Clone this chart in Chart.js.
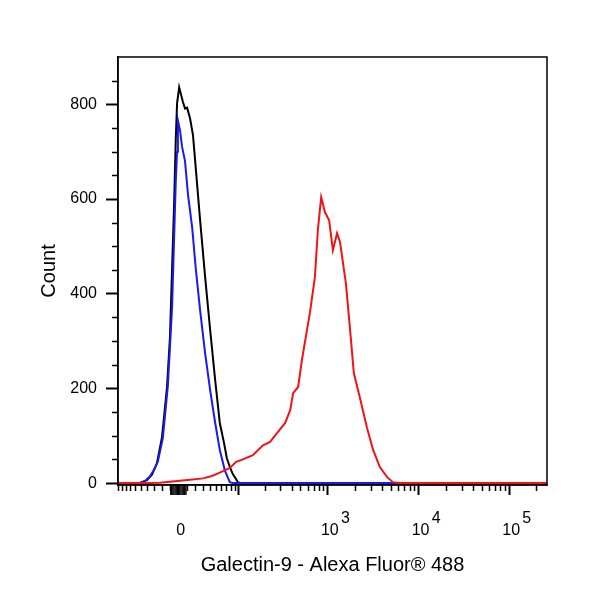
<!DOCTYPE html>
<html>
<head>
<meta charset="utf-8">
<script src="https://cdn.jsdelivr.net/npm/chart.js@4.4.1/dist/chart.umd.min.js"></script>
<style>
  html, body { margin: 0; padding: 0; background: #fff; }
</style>
</head>
<body>
<canvas id="myChartfc" width="600" height="600"></canvas>
<script>
// display channel (0-1024) across the biexponential axis
var blackCh    = [0, 36, 53, 69, 81, 93, 105, 117, 124, 129, 134, 138, 141, 146, 155, 160, 165, 172, 179, 186, 196, 208, 220, 232, 243, 253, 260, 267, 274, 282, 286, 294, 1024];
var blackCount = [0, 0, 1, 6, 18, 42, 97, 203, 308, 450, 591, 730, 802, 836, 805, 791, 793, 770, 735, 661, 555, 435, 323, 217, 127, 85, 52, 34, 19, 8, 2, 0, 0];

var blueCh    = [0, 41, 53, 64, 76, 86, 95, 107, 119, 129, 134, 138, 141, 143, 148, 153, 160, 167, 177, 186, 196, 208, 220, 232, 243, 255, 263, 267, 274, 1024];
var blueCount = [0, 0, 0, 4, 14, 28, 45, 95, 205, 370, 520, 640, 700, 766, 745, 710, 680, 610, 540, 450, 365, 274, 196, 127, 70, 27, 10, 2, 0, 0];

var redCh    = [0, 29, 76, 100, 124, 148, 172, 203, 224, 243, 267, 282, 298, 322, 346, 363, 380, 399, 411, 418, 430, 439, 451, 458, 470, 477, 485, 494, 504, 513, 523, 530, 544, 554, 563, 577, 594, 609, 625, 642, 656, 673, 1024];
var redCount = [0, 0, 0, 1, 3, 5, 7, 10, 15, 22, 32, 45, 50, 59, 80, 87, 106, 127, 154, 190, 203, 260, 323, 359, 435, 534, 604, 572, 555, 492, 528, 509, 422, 323, 232, 182, 118, 70, 34, 13, 2, 0, 0];

var xMajorValues = [0, 100, 1000, 10000, 100000];
var xMajorLabels = [["", " 0"], "", ["        3", " 10"], ["        4", " 10"], ["        5", " 10"]];
var xMinorValues = [-100, -90, -80, -70, -60, -50, -40, -30, -20, -10, 10, 20, 30, 40, 50, 60, 70, 80, 90,
  200, 300, 400, 500, 600, 700, 800, 900,
  2000, 3000, 4000, 5000, 6000, 7000, 8000, 9000,
  20000, 30000, 40000, 50000, 60000, 70000, 80000, 90000, 200000];
var xZeroValues = [-9, -8, -7, -6, -5, -4, -3, -2, -1, 1, 2, 3, 4, 5, 6, 7, 8, 9];

var yMajorValues = [0, 200, 400, 600, 800];
var yMinorValues = [50, 100, 150, 250, 300, 350, 450, 500, 550, 650, 700, 750, 850];

// biexponential-like transform, value -> channel
var W = 45.3;
var LO = Math.asinh(-100 / W), HI = Math.asinh(262144 / W);
function chOf(v) { return (Math.asinh(v / W) - LO) / (HI - LO) * 1024; }

function pts(xs, ys) { return xs.map(function (c, i) { return {x: c, y: ys[i]}; }); }

var fontFam = "'Liberation Sans', Arial, sans-serif";

var frameTicks = {
  id: 'frameTicks',
  afterDraw: function (chart) {
    var ctx = chart.ctx, a = chart.chartArea;
    var xs = chart.scales.x, ys = chart.scales.y;
    ctx.save();
    ctx.strokeStyle = '#000';
    ctx.lineWidth = 1.5;
    ctx.strokeRect(a.left, a.top, a.right - a.left, a.bottom - a.top);
    ctx.lineWidth = 1.5;
    ctx.beginPath();
    xMinorValues.forEach(function (v) {
      var p = Math.round(xs.getPixelForValue(chOf(v))) + 0.5;
      ctx.moveTo(p, a.bottom); ctx.lineTo(p, a.bottom + 6);
    });
    yMinorValues.forEach(function (v) {
      var p = Math.round(ys.getPixelForValue(v)) + 0.5;
      ctx.moveTo(a.left, p); ctx.lineTo(a.left - 6, p);
    });
    ctx.stroke();
    ctx.lineWidth = 1;
    ctx.beginPath();
    xZeroValues.forEach(function (v) {
      var p = xs.getPixelForValue(chOf(v));
      ctx.moveTo(p, a.bottom); ctx.lineTo(p, a.bottom + 10);
    });
    ctx.stroke();
    ctx.restore();
  }
};

var ctxfc = document.getElementById("myChartfc").getContext('2d');
var myChartfc = new Chart(ctxfc, {
  type: 'line',
  data: {
    datasets: [
      { label: 'Galectin-9', data: pts(redCh, redCount), borderColor: '#f01414', order: 1 },
      { label: 'Isotype', data: pts(blueCh, blueCount), borderColor: '#1a1af0', order: 2 },
      { label: 'Unstained', data: pts(blackCh, blackCount), borderColor: '#000000', order: 3 }
    ]
  },
  options: {
    responsive: false,
    animation: false,
    layout: { padding: { left: 0, top: 57, right: 53, bottom: 0 } },
    elements: {
      line: { borderWidth: 2, tension: 0, fill: false },
      point: { radius: 0, hoverRadius: 0 }
    },
    plugins: { legend: { display: false }, tooltip: { enabled: false } },
    scales: {
      x: {
        type: 'linear', min: 0, max: 1024,
        afterBuildTicks: function (s) { s.ticks = xMajorValues.map(function (v) { return {value: chOf(v)}; }); },
        afterFit: function (s) { s.height = 115; },
        grid: { drawOnChartArea: false, tickLength: 10, tickWidth: 2, tickColor: '#000' },
        border: { color: '#000', width: 1.5 },
        ticks: {
          autoSkip: false, maxRotation: 0, padding: 17, color: '#000',
          font: { family: fontFam, size: 16, lineHeight: 0.78 },
          callback: function (v, i) { return xMajorLabels[i]; }
        },
        title: { display: true, text: 'Galectin-9 - Alexa Fluor® 488', color: '#000',
          font: { family: fontFam, size: 20 }, padding: { top: 0, bottom: 23 } }
      },
      y: {
        min: -4, max: 900,
        afterBuildTicks: function (s) { s.ticks = yMajorValues.map(function (v) { return {value: v}; }); },
        afterFit: function (s) { s.width = 118; },
        grid: { drawOnChartArea: false, tickLength: 12, tickWidth: 2, tickColor: '#000' },
        border: { color: '#000', width: 1.5 },
        ticks: { padding: 9, color: '#000', font: { family: fontFam, size: 16 } },
        title: { display: true, text: 'Count', color: '#000',
          font: { family: fontFam, size: 20 }, padding: { top: 37, bottom: 0 } }
      }
    }
  },
  plugins: [frameTicks]
});
</script>
</body>
</html>
